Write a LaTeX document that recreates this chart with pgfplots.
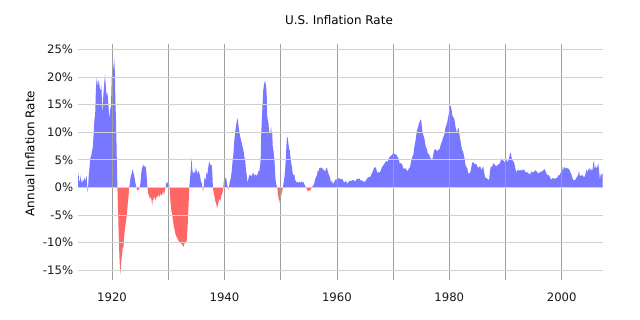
\documentclass[border=0pt]{standalone}
\usepackage{pgfplots}
\usepackage{pgfplotstable}
\pgfplotsset{compat=1.18}
\usepackage{fontspec}
\setmainfont{DejaVu Sans}
\definecolor{posc}{RGB}{119,119,255}
\definecolor{negc}{RGB}{255,102,102}
\pgfplotstableread{
year v
1913.95 1.5
1914.05 2.7
1914.15 1.0
1914.3 1.2
1914.45 2.2
1914.55 1.0
1914.7 0.9
1914.85 1.5
1915.0 1.0
1915.1 1.8
1915.25 1.0
1915.4 2.1
1915.5 1.8
1915.6 0.0
1915.67 -1.0
1915.75 0.0
1915.85 2.0
1916.0 3.6
1916.15 5.4
1916.3 5.7
1916.45 6.6
1916.6 7.2
1916.75 10.2
1916.9 12.6
1917.0 13.0
1917.1 16.5
1917.2 19.9
1917.3 18.5
1917.4 19.3
1917.5 18.0
1917.6 19.5
1917.75 18.7
1917.9 17.5
1918.0 17.8
1918.1 18.5
1918.2 16.0
1918.3 13.0
1918.4 15.7
1918.55 18.0
1918.75 20.5
1918.85 19.0
1918.95 17.5
1919.1 16.5
1919.2 17.2
1919.35 15.0
1919.5 13.0
1919.6 12.8
1919.7 14.5
1919.8 14.0
1919.95 19.9
1920.1 21.0
1920.25 21.8
1920.4 23.3
1920.5 21.0
1920.6 16.0
1920.7 12.5
1920.8 8.0
1920.9 2.6
1921.0 -1.6
1921.1 -5.0
1921.2 -9.0
1921.3 -12.0
1921.4 -14.5
1921.5 -15.8
1921.6 -14.0
1921.75 -12.5
1921.9 -11.0
1922.05 -10.8
1922.2 -8.5
1922.35 -7.2
1922.5 -6.0
1922.65 -5.0
1922.8 -3.0
1922.95 -1.5
1923.05 0.0
1923.15 0.5
1923.3 1.8
1923.5 2.5
1923.65 3.3
1923.75 2.8
1923.9 2.4
1924.05 1.5
1924.2 0.6
1924.35 0.0
1924.5 -0.6
1924.65 -0.3
1924.8 -0.5
1924.95 0.0
1925.1 1.2
1925.25 3.0
1925.4 3.9
1925.5 3.5
1925.65 4.2
1925.8 3.6
1925.95 3.9
1926.05 3.3
1926.2 1.5
1926.3 0.0
1926.45 -1.2
1926.6 -1.5
1926.75 -2.1
1926.9 -1.6
1927.05 -2.5
1927.15 -3.3
1927.3 -1.8
1927.45 -2.4
1927.6 -1.5
1927.75 -2.4
1927.9 -1.8
1928.05 -1.5
1928.2 -1.8
1928.35 -1.2
1928.5 -1.8
1928.65 -1.0
1928.8 -1.5
1928.95 -1.2
1929.1 -0.6
1929.25 -1.5
1929.4 -0.6
1929.55 0.0
1929.65 0.9
1929.8 0.6
1929.95 1.0
1930.1 0.5
1930.25 0.0
1930.4 -2.5
1930.55 -4.2
1930.7 -4.8
1930.85 -6.0
1931.0 -7.0
1931.15 -7.8
1931.3 -8.5
1931.5 -9.0
1931.7 -9.4
1931.9 -9.8
1932.1 -10.0
1932.3 -10.2
1932.5 -10.4
1932.7 -10.8
1932.85 -10.3
1933.0 -10.0
1933.15 -10.0
1933.3 -9.6
1933.45 -7.2
1933.6 -3.6
1933.75 0.0
1933.85 1.2
1934.0 3.0
1934.15 5.4
1934.3 3.0
1934.45 2.4
1934.6 3.0
1934.75 2.4
1934.9 3.6
1935.05 3.0
1935.2 2.4
1935.35 3.0
1935.5 2.7
1935.65 2.1
1935.8 1.2
1935.95 0.8
1936.1 0.0
1936.2 -0.9
1936.3 0.0
1936.4 1.2
1936.5 1.8
1936.65 1.2
1936.8 2.7
1936.95 2.2
1937.1 3.5
1937.3 4.8
1937.45 4.0
1937.6 4.2
1937.75 3.9
1937.85 2.5
1937.95 0.0
1938.1 -1.0
1938.25 -1.8
1938.4 -2.6
1938.55 -3.0
1938.7 -3.9
1938.85 -3.0
1939.0 -2.4
1939.15 -2.1
1939.3 -2.4
1939.45 -1.5
1939.6 -1.2
1939.75 -0.5
1939.8 0.0
1939.9 1.2
1940.0 1.8
1940.15 1.5
1940.3 1.8
1940.45 0.6
1940.6 0.0
1940.7 -0.5
1940.8 0.0
1940.95 1.0
1941.1 1.5
1941.25 2.5
1941.4 4.2
1941.6 6.0
1941.75 8.4
1941.9 10.0
1942.1 11.4
1942.3 12.6
1942.4 12.0
1942.55 10.8
1942.7 9.8
1942.85 9.0
1943.0 8.4
1943.2 7.5
1943.4 6.6
1943.55 5.5
1943.7 4.8
1943.85 3.0
1944.0 2.0
1944.1 0.8
1944.25 1.5
1944.4 2.1
1944.55 2.4
1944.7 2.0
1944.85 2.1
1945.0 2.4
1945.15 2.7
1945.3 2.0
1945.45 2.4
1945.6 2.2
1945.75 2.1
1945.9 2.4
1946.05 3.0
1946.15 2.7
1946.3 3.6
1946.45 5.0
1946.55 9.6
1946.65 12.0
1946.75 14.5
1946.9 17.5
1947.05 18.7
1947.2 19.3
1947.3 19.0
1947.45 18.0
1947.55 16.0
1947.6 13.0
1947.75 12.0
1947.85 11.6
1947.95 9.8
1948.05 10.2
1948.15 9.5
1948.3 11.0
1948.4 9.8
1948.5 10.0
1948.6 7.4
1948.75 6.5
1948.9 5.0
1949.0 3.0
1949.1 1.3
1949.25 0.5
1949.4 0.0
1949.5 -1.0
1949.65 -2.0
1949.75 -2.8
1949.85 -2.2
1950.0 -2.0
1950.15 -1.2
1950.3 -0.6
1950.4 0.0
1950.55 1.0
1950.7 2.0
1950.85 4.0
1950.95 5.9
1951.05 8.0
1951.15 9.2
1951.25 9.0
1951.35 8.2
1951.5 7.0
1951.6 6.8
1951.75 5.5
1951.9 4.3
1952.0 3.8
1952.15 2.5
1952.3 2.2
1952.45 2.3
1952.6 1.3
1952.75 1.0
1952.9 0.9
1953.05 1.0
1953.2 0.8
1953.35 1.0
1953.5 0.7
1953.65 1.2
1953.8 0.8
1953.95 1.0
1954.1 0.9
1954.25 0.5
1954.4 0.2
1954.5 0.0
1954.65 -0.3
1954.8 -0.6
1954.95 -0.7
1955.1 -0.5
1955.25 -0.6
1955.4 -0.3
1955.55 0.0
1955.7 0.2
1955.85 0.4
1956.0 0.8
1956.15 1.5
1956.3 1.9
1956.45 2.2
1956.6 2.9
1956.75 3.0
1956.9 3.5
1957.05 3.6
1957.2 3.5
1957.35 3.6
1957.5 3.3
1957.65 3.2
1957.8 3.0
1957.95 3.0
1958.1 3.4
1958.25 3.6
1958.4 2.8
1958.55 2.4
1958.7 2.0
1958.85 1.5
1958.95 0.7
1959.1 1.3
1959.3 0.6
1959.5 0.9
1959.7 1.3
1959.9 1.6
1960.0 1.2
1960.2 1.5
1960.4 1.7
1960.6 1.5
1960.8 1.4
1961.0 1.6
1961.2 1.0
1961.4 0.9
1961.6 1.2
1961.8 0.7
1962.0 0.8
1962.2 1.2
1962.4 1.1
1962.6 1.2
1962.8 1.3
1963.0 1.3
1963.2 1.0
1963.4 1.3
1963.6 1.5
1963.8 1.6
1964.0 1.6
1964.2 1.3
1964.4 1.2
1964.6 1.2
1964.8 1.0
1965.0 1.0
1965.2 1.3
1965.4 1.6
1965.6 1.9
1965.8 1.8
1966.0 2.0
1966.2 2.5
1966.4 2.9
1966.6 3.5
1966.8 3.7
1967.0 3.4
1967.2 2.6
1967.4 2.8
1967.6 2.6
1967.8 3.0
1968.0 3.6
1968.2 3.9
1968.4 4.2
1968.6 4.5
1968.8 4.8
1969.0 4.6
1969.2 5.2
1969.4 5.5
1969.6 5.7
1969.8 5.9
1970.0 6.2
1970.2 6.1
1970.4 6.0
1970.6 5.9
1970.8 5.5
1971.0 5.2
1971.2 4.3
1971.4 4.4
1971.6 4.2
1971.8 3.5
1972.0 3.3
1972.2 3.5
1972.4 3.2
1972.6 2.9
1972.8 3.4
1973.0 3.6
1973.2 4.7
1973.4 5.5
1973.6 5.9
1973.8 7.4
1974.0 8.5
1974.2 10.0
1974.4 10.8
1974.6 11.5
1974.8 12.1
1974.9 12.3
1975.0 12.2
1975.2 10.3
1975.4 9.4
1975.6 8.7
1975.8 7.4
1976.0 7.0
1976.2 6.1
1976.4 6.0
1976.6 5.4
1976.8 5.1
1976.95 4.9
1977.1 5.6
1977.3 6.8
1977.5 6.9
1977.7 6.7
1977.9 6.6
1978.1 6.8
1978.3 7.0
1978.5 7.8
1978.7 8.3
1978.9 9.0
1979.1 9.5
1979.3 10.7
1979.5 11.3
1979.7 12.1
1979.9 13.3
1980.1 14.2
1980.2 14.8
1980.3 14.7
1980.45 13.7
1980.55 13.0
1980.7 12.7
1980.85 12.6
1981.0 11.8
1981.1 11.0
1981.25 10.4
1981.4 9.8
1981.55 10.8
1981.65 10.8
1981.75 10.1
1981.9 8.9
1982.0 8.4
1982.15 7.5
1982.3 6.7
1982.45 6.5
1982.6 5.9
1982.75 5.0
1982.9 4.0
1983.05 3.7
1983.2 3.5
1983.35 2.6
1983.5 2.5
1983.65 2.6
1983.8 2.9
1983.95 3.8
1984.1 4.5
1984.25 4.6
1984.4 4.3
1984.55 4.2
1984.7 4.3
1984.85 4.1
1985.0 3.8
1985.15 3.5
1985.3 3.7
1985.45 3.8
1985.6 3.6
1985.75 3.1
1985.9 3.5
1986.0 3.9
1986.15 3.1
1986.3 2.2
1986.45 1.6
1986.55 1.8
1986.7 1.6
1986.85 1.5
1987.0 1.3
1987.1 1.5
1987.25 3.0
1987.4 3.8
1987.55 3.7
1987.7 3.9
1987.85 4.4
1988.0 4.2
1988.15 4.0
1988.3 3.9
1988.45 3.9
1988.6 4.0
1988.75 4.2
1988.9 4.2
1989.05 4.5
1989.2 5.0
1989.35 5.3
1989.5 5.0
1989.65 4.8
1989.8 4.6
1989.95 4.6
1990.1 5.3
1990.25 4.7
1990.4 4.7
1990.55 5.0
1990.7 5.6
1990.85 6.3
1990.95 6.2
1991.1 5.3
1991.25 4.9
1991.4 4.7
1991.55 4.4
1991.7 3.8
1991.85 3.0
1992.0 2.7
1992.15 3.2
1992.3 3.1
1992.45 3.1
1992.6 3.1
1992.75 3.2
1992.9 2.9
1993.05 3.3
1993.2 3.1
1993.35 3.2
1993.5 2.8
1993.65 2.8
1993.8 2.7
1993.95 2.7
1994.1 2.5
1994.25 2.5
1994.4 2.3
1994.55 2.8
1994.7 2.9
1994.85 2.6
1995.0 2.8
1995.15 2.9
1995.3 3.1
1995.45 3.0
1995.6 2.8
1995.75 2.6
1995.9 2.5
1996.05 2.7
1996.2 2.8
1996.35 2.9
1996.5 2.8
1996.65 3.0
1996.8 3.2
1996.95 3.3
1997.1 3.0
1997.25 2.7
1997.4 2.2
1997.55 2.2
1997.7 2.2
1997.85 2.0
1998.0 1.6
1998.15 1.4
1998.3 1.6
1998.45 1.7
1998.6 1.6
1998.75 1.5
1998.9 1.6
1999.05 1.7
1999.2 1.7
1999.35 2.2
1999.5 2.1
1999.65 2.3
1999.8 2.6
1999.95 2.7
2000.1 2.9
2000.2 3.8
2000.35 3.1
2000.5 3.7
2000.65 3.4
2000.8 3.5
2000.95 3.4
2001.1 3.5
2001.25 3.3
2001.4 3.2
2001.5 2.7
2001.65 2.6
2001.8 2.1
2001.95 1.6
2002.05 1.1
2002.2 1.5
2002.35 1.2
2002.5 1.5
2002.65 1.8
2002.8 2.0
2002.95 2.4
2003.1 3.0
2003.2 2.2
2003.35 2.1
2003.5 2.1
2003.65 2.3
2003.8 2.0
2003.95 1.9
2004.05 1.9
2004.2 2.3
2004.35 2.9
2004.45 3.3
2004.6 2.7
2004.75 3.2
2004.9 3.5
2005.05 3.0
2005.2 3.5
2005.35 3.0
2005.5 3.2
2005.6 4.4
2005.75 4.7
2005.85 3.5
2005.95 3.4
2006.05 4.0
2006.15 3.6
2006.3 3.5
2006.45 4.2
2006.55 4.1
2006.65 3.0
2006.75 1.9
2006.8 1.3
2006.95 2.5
2007.05 2.1
2007.15 2.4
2007.3 2.6
}\infl
\begin{document}
\begin{tikzpicture}
\path[use as bounding box] (0,0) rectangle (640bp,320bp);
\begin{axis}[
  at={(78bp,40bp)}, anchor=south west,
  width=525bp, height=236bp, scale only axis,
  xmin=1913.95, xmax=2007.35, ymin=-16.8, ymax=26,
  enlargelimits=false,
  axis line style={draw=none},
  major tick length=0pt,
  axis on top,
  xtick={1920,1930,...,2000},
  xticklabels={1920,,1940,,1960,,1980,,2000},
  ytick={-15,-10,...,25},
  yticklabels={-15\%,-10\%,-5\%,0\%,5\%,10\%,15\%,20\%,25\%},
  xmajorgrids, ymajorgrids,
  x grid style={black!38, line width=0.7bp},
  y grid style={black!18, line width=0.8bp},
  tick label style={font=\fontsize{11.7}{13}\selectfont, text=black!90},
  xticklabel style={yshift=-9.5bp},
  yticklabel style={xshift=-1.4bp},
  title={U.S. Inflation Rate},
  title style={font=\fontsize{12}{14}\selectfont, at={(axis description cs:0.497,1.076)}, anchor=center},
  ylabel={Annual Inflation Rate},
  ylabel style={font=\fontsize{12}{14}\selectfont, at={(axis description cs:-0.0914,0.536)}, anchor=center, rotate=0},
]
\begin{scope}
\clip (axis cs:1900,0) rectangle (axis cs:2020,40);
\addplot[draw=none, fill=posc] table[x=year,y=v]{\infl} \closedcycle;
\end{scope}
\begin{scope}
\clip (axis cs:1900,-40) rectangle (axis cs:2020,0);
\addplot[draw=none, fill=negc] table[x=year,y=v]{\infl} \closedcycle;
\end{scope}
\draw[black!80, line width=0.9bp] (axis cs:1913.95,0) -- (axis cs:2007.35,0);
\end{axis}
\end{tikzpicture}
\end{document}
